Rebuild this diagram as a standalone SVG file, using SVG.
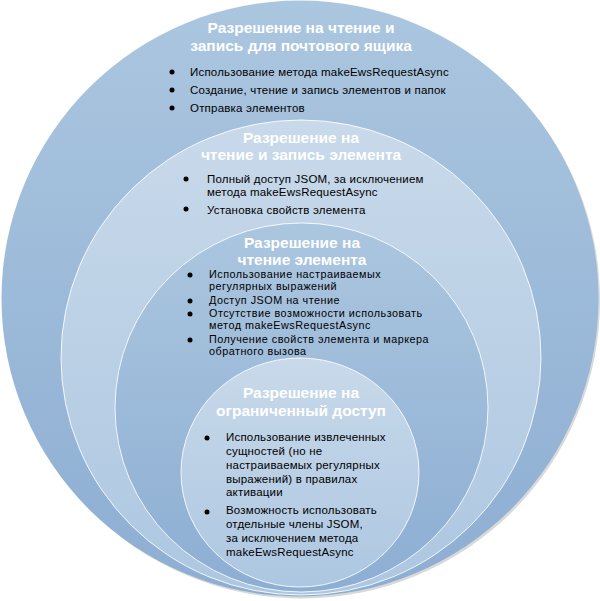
<svg xmlns="http://www.w3.org/2000/svg" width="600" height="601" viewBox="0 0 600 601">
<defs>
<linearGradient id="gDark" x1="0" y1="0" x2="0" y2="1">
<stop offset="0" stop-color="#abc6df"/>
<stop offset="1" stop-color="#8daed3"/>
</linearGradient>
<linearGradient id="gLight" x1="0" y1="0" x2="0" y2="1">
<stop offset="0" stop-color="#c8d9ea"/>
<stop offset="1" stop-color="#adc7e1"/>
</linearGradient>
<style>
.ring{stroke:#ffffff;stroke-opacity:0.85;stroke-width:1}
.h{font-family:"Liberation Sans",Arial,sans-serif;font-weight:bold;font-size:15.5px;fill:#ffffff;text-anchor:middle}
.t{font-family:"Liberation Sans",Arial,sans-serif;font-size:11.5px;letter-spacing:0.2px;fill:#000000}
.t3{font-family:"Liberation Sans",Arial,sans-serif;font-size:10.8px;letter-spacing:0.5px;fill:#000000}
.dot{fill:#000000}
</style>
</defs>
<ellipse cx="302" cy="300.5" rx="298" ry="298" fill="#d9d9d9"/>
<g id="node-mailbox">
<ellipse cx="300" cy="298.5" rx="298.5" ry="298" fill="url(#gDark)"/>
<text class="h" x="301" y="33">Разрешение на чтение и</text>
<text class="h" x="301" y="51">запись для почтового ящика</text>
<circle class="dot" cx="172" cy="72" r="2.5"/>
<circle class="dot" cx="172" cy="90" r="2.5"/>
<circle class="dot" cx="172" cy="108" r="2.5"/>
<text class="t" x="190" y="76">Использование метода makeEwsRequestAsync</text>
<text class="t" x="190" y="94">Создание, чтение и запись элементов и папок</text>
<text class="t" x="190" y="112">Отправка элементов</text>
</g>
<g id="node-readwrite-item">
<ellipse class="ring" cx="301" cy="357.5" rx="240" ry="237.5" fill="url(#gLight)"/>
<text class="h" x="301" y="143">Разрешение на</text>
<text class="h" x="301" y="160">чтение и запись элемента</text>
<circle class="dot" cx="186" cy="179" r="2.5"/>
<circle class="dot" cx="186" cy="209" r="2.5"/>
<text class="t" x="207" y="183">Полный доступ JSOM, за исключением</text>
<text class="t" x="207" y="196">метода makeEwsRequestAsync</text>
<text class="t" x="207" y="214">Установка свойств элемента</text>
</g>
<g id="node-read-item">
<ellipse class="ring" cx="301.5" cy="407.5" rx="186.5" ry="184.5" fill="url(#gDark)"/>
<text class="h" x="302" y="248">Разрешение на</text>
<text class="h" x="302" y="265">чтение элемента</text>
<circle class="dot" cx="190" cy="275" r="2.5"/>
<circle class="dot" cx="190" cy="301" r="2.5"/>
<circle class="dot" cx="190" cy="314" r="2.5"/>
<circle class="dot" cx="190" cy="340" r="2.5"/>
<text class="t3" x="209" y="278">Использование настраиваемых</text>
<text class="t3" x="209" y="290.3">регулярных выражений</text>
<text class="t3" x="209" y="304">Доступ JSOM на чтение</text>
<text class="t3" x="209" y="317">Отсутствие возможности использовать</text>
<text class="t3" x="209" y="329.3">метод makeEwsRequestAsync</text>
<text class="t3" x="209" y="343">Получение свойств элемента и маркера</text>
<text class="t3" x="209" y="355.3">обратного вызова</text>
</g>
<g id="node-restricted">
<ellipse class="ring" cx="300" cy="472.5" rx="119" ry="114.5" fill="url(#gLight)"/>
<text class="h" x="301" y="398">Разрешение на</text>
<text class="h" x="301" y="416">ограниченный доступ</text>
<circle class="dot" cx="207" cy="438" r="2.5"/>
<circle class="dot" cx="207" cy="512" r="2.5"/>
<text class="t" x="226" y="441">Использование извлеченных</text>
<text class="t" x="226" y="455">сущностей (но не</text>
<text class="t" x="226" y="469">настраиваемых регулярных</text>
<text class="t" x="226" y="482.5">выражений) в правилах</text>
<text class="t" x="226" y="496">активации</text>
<text class="t" x="226" y="514">Возможность использовать</text>
<text class="t" x="226" y="528">отдельные члены JSOM,</text>
<text class="t" x="226" y="542">за исключением метода</text>
<text class="t" x="226" y="556">makeEwsRequestAsync</text>
</g>
<g id="connectors"/>
</svg>
